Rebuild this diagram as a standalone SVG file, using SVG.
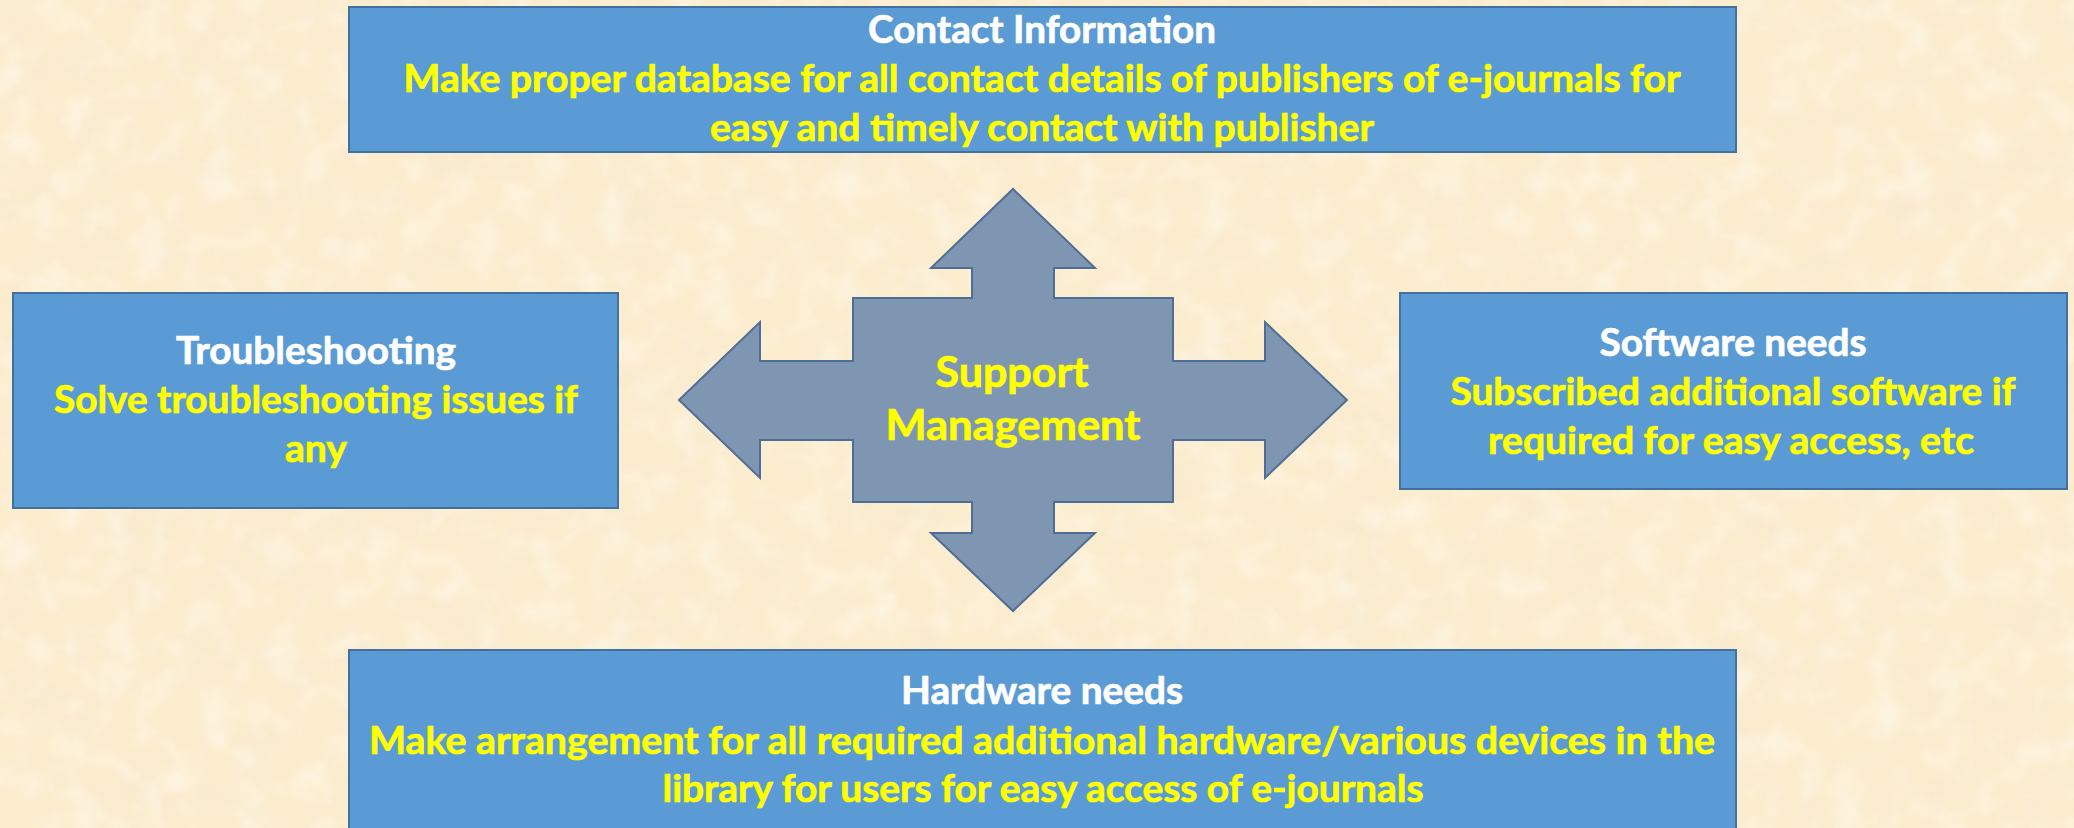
<svg xmlns="http://www.w3.org/2000/svg" width="2074" height="828" viewBox="0 0 2074 828">
  <defs>
    <style>
      .box { fill: #5B9BD5; stroke: #41719C; stroke-width: 2; }
      .t { font-family: Lato, "Open Sans", "Liberation Sans", sans-serif; font-weight: 700; font-size: 38px; text-anchor: middle; stroke-width: 0.7px; }
      .title { fill: #FFFFFF; stroke: #FFFFFF; }
      .body { fill: #FFFF00; stroke: #FFFF00; }
      .hub { fill: #7F96B2; stroke: #4F6E96; stroke-width: 2; stroke-linejoin: miter; }
      .hubtext { font-family: Lato, "Open Sans", "Liberation Sans", sans-serif; font-weight: 700; font-size: 42px; text-anchor: middle; fill: #FFFF00; stroke: #FFFF00; stroke-width: 0.7px; }
    </style>
    <filter id="paper" filterUnits="userSpaceOnUse" x="0" y="0" width="2074" height="828">
      <feTurbulence type="fractalNoise" baseFrequency="0.018 0.022" numOctaves="5" seed="11"/>
      <feColorMatrix type="matrix" values="0 0 0 0 0.90  0 0 0 0 0.79  0 0 0 0 0.60  2.4 0 0 0 -1.0"/>
    </filter>
    <filter id="paperlight" filterUnits="userSpaceOnUse" x="0" y="0" width="2074" height="828">
      <feTurbulence type="fractalNoise" baseFrequency="0.03" numOctaves="3" seed="4"/>
      <feColorMatrix type="matrix" values="0 0 0 0 1  0 0 0 0 0.98  0 0 0 0 0.93  0 2.2 0 0 -1.0"/>
    </filter>
  </defs>

  <g id="background">
    <rect x="0" y="0" width="2074" height="828" fill="#FCEDCF"/>
    <rect x="0" y="0" width="2074" height="828" fill="#000" filter="url(#paper)" opacity="0.35"/>
    <rect x="0" y="0" width="2074" height="828" fill="#000" filter="url(#paperlight)" opacity="0.45"/>
  </g>

  <g id="connectors"></g>

  <g id="support-management">
    <path class="hub" d="M1013,189 L1095,268 L1054,268 L1054,298 L1173,298 L1173,361 L1265,361 L1265,322 L1347,400 L1265,478 L1265,440 L1173,440 L1173,502 L1054,502 L1054,533 L1095,533 L1013,611 L931,533 L972,533 L972,502 L853,502 L853,440 L760,440 L760,478 L679,400 L760,322 L760,361 L853,361 L853,298 L972,298 L972,268 L931,268 Z"/>
    <text class="hubtext" x="1012" y="387" textLength="153" lengthAdjust="spacingAndGlyphs">Support</text>
    <text class="hubtext" x="1013" y="440" textLength="255" lengthAdjust="spacingAndGlyphs">Management</text>
  </g>

  <g id="contact-information">
    <rect class="box" x="349" y="7" width="1387" height="145"/>
    <text class="t title" x="1042" y="43" textLength="348" lengthAdjust="spacingAndGlyphs">Contact Information</text>
    <text class="t body" x="1042" y="92" textLength="1277" lengthAdjust="spacingAndGlyphs">Make proper database for all contact details of publishers of e-journals for</text>
    <text class="t body" x="1042" y="141" textLength="664" lengthAdjust="spacingAndGlyphs">easy and timely contact with publisher</text>
  </g>

  <g id="troubleshooting">
    <rect class="box" x="13" y="293" width="605" height="215"/>
    <text class="t title" x="316" y="364" textLength="280" lengthAdjust="spacingAndGlyphs">Troubleshooting</text>
    <text class="t body" x="316" y="413" textLength="524" lengthAdjust="spacingAndGlyphs">Solve troubleshooting issues if</text>
    <text class="t body" x="316" y="462" textLength="62" lengthAdjust="spacingAndGlyphs">any</text>
  </g>

  <g id="software-needs">
    <rect class="box" x="1400" y="293" width="667" height="196"/>
    <text class="t title" x="1733" y="356" textLength="267" lengthAdjust="spacingAndGlyphs">Software needs</text>
    <text class="t body" x="1733" y="405" textLength="565" lengthAdjust="spacingAndGlyphs">Subscribed additional software if</text>
    <text class="t body" x="1731" y="454" textLength="486" lengthAdjust="spacingAndGlyphs">required for easy access, etc</text>
  </g>

  <g id="hardware-needs">
    <rect class="box" x="349" y="650" width="1387" height="195"/>
    <text class="t title" x="1042" y="704" textLength="282" lengthAdjust="spacingAndGlyphs">Hardware needs</text>
    <text class="t body" x="1042" y="754" textLength="1346" lengthAdjust="spacingAndGlyphs">Make arrangement for all required additional hardware/various devices in the</text>
    <text class="t body" x="1043" y="802" textLength="761" lengthAdjust="spacingAndGlyphs">library for users for easy access of e-journals</text>
  </g>
</svg>
